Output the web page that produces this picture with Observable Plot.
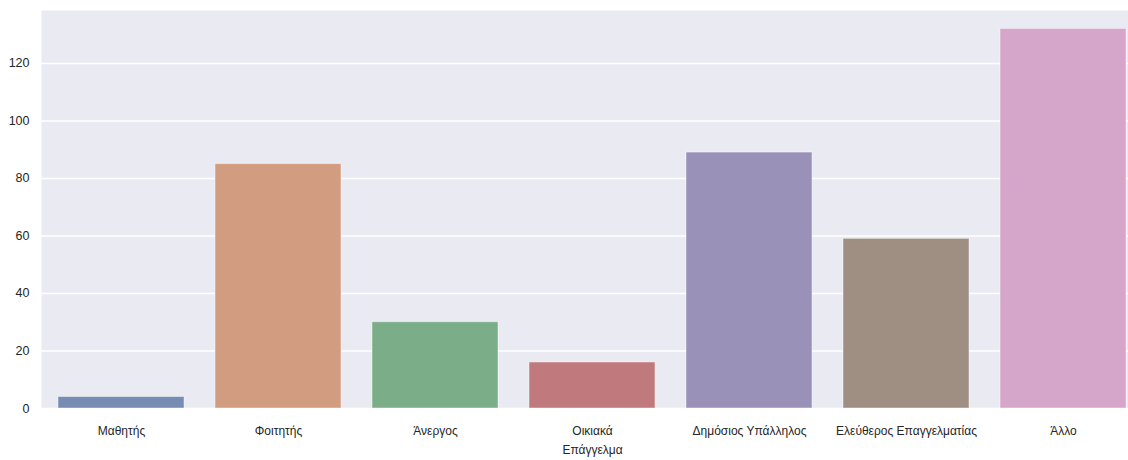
<!DOCTYPE html>
<html>
<head>
<meta charset="utf-8">
<script src="https://cdn.jsdelivr.net/npm/d3@7"></script>
<script src="https://cdn.jsdelivr.net/npm/@observablehq/plot@0.6"></script>
<style>
  html, body { margin: 0; padding: 0; background: white; overflow: hidden; }
  #chart svg { display: block; }
</style>
</head>
<body>
<div id="chart"></div>
<script>
const categories = ["Μαθητής", "Φοιτητής", "Άνεργος", "Οικιακά\nΕπάγγελμα", "Δημόσιος Υπάλληλος", "Ελεύθερος Επαγγελματίας", "Άλλο"];
const counts = [4, 85, 30, 16, 89, 59, 132];
const colors = ["#768CB3", "#D29C80", "#7BAD88", "#C0797D", "#9A91B9", "#9F8F82", "#D5A6C9"];
const yTicks = [0, 20, 40, 60, 80, 100, 120];

const data = categories.map((c, i) => ({category: c, count: counts[i], color: colors[i]}));

const chart = Plot.plot({
  width: 1128,
  height: 460,
  marginLeft: 41,
  marginRight: 0,
  marginTop: 10,
  marginBottom: 52,
  style: {fontFamily: "'Liberation Sans', Arial, sans-serif", fontSize: "12px", color: "#262626", background: "white"},
  x: {domain: categories, range: [41, 1142], paddingInner: 0.2, paddingOuter: 0.1, label: null},
  y: {domain: [0, 138.4], label: null},
  marks: [
    Plot.frame({fill: "#EAEAF2", stroke: null}),
    Plot.gridY(yTicks, {stroke: "white", strokeOpacity: 1, strokeWidth: 1.5}),
    Plot.barY(data, {x: "category", y: "count", fill: "color", stroke: "white", strokeOpacity: 0.45, strokeWidth: 1}),
    Plot.axisY(yTicks, {tickSize: 0, tickPadding: 12, fontSize: 12.5, fill: "#262626", label: null}),
    Plot.axisX({tickSize: 0, tickPadding: 13, fontSize: 12, fill: "#262626", lineHeight: 1.6, label: null})
  ]
});
document.getElementById("chart").appendChild(chart);
</script>
</body>
</html>
